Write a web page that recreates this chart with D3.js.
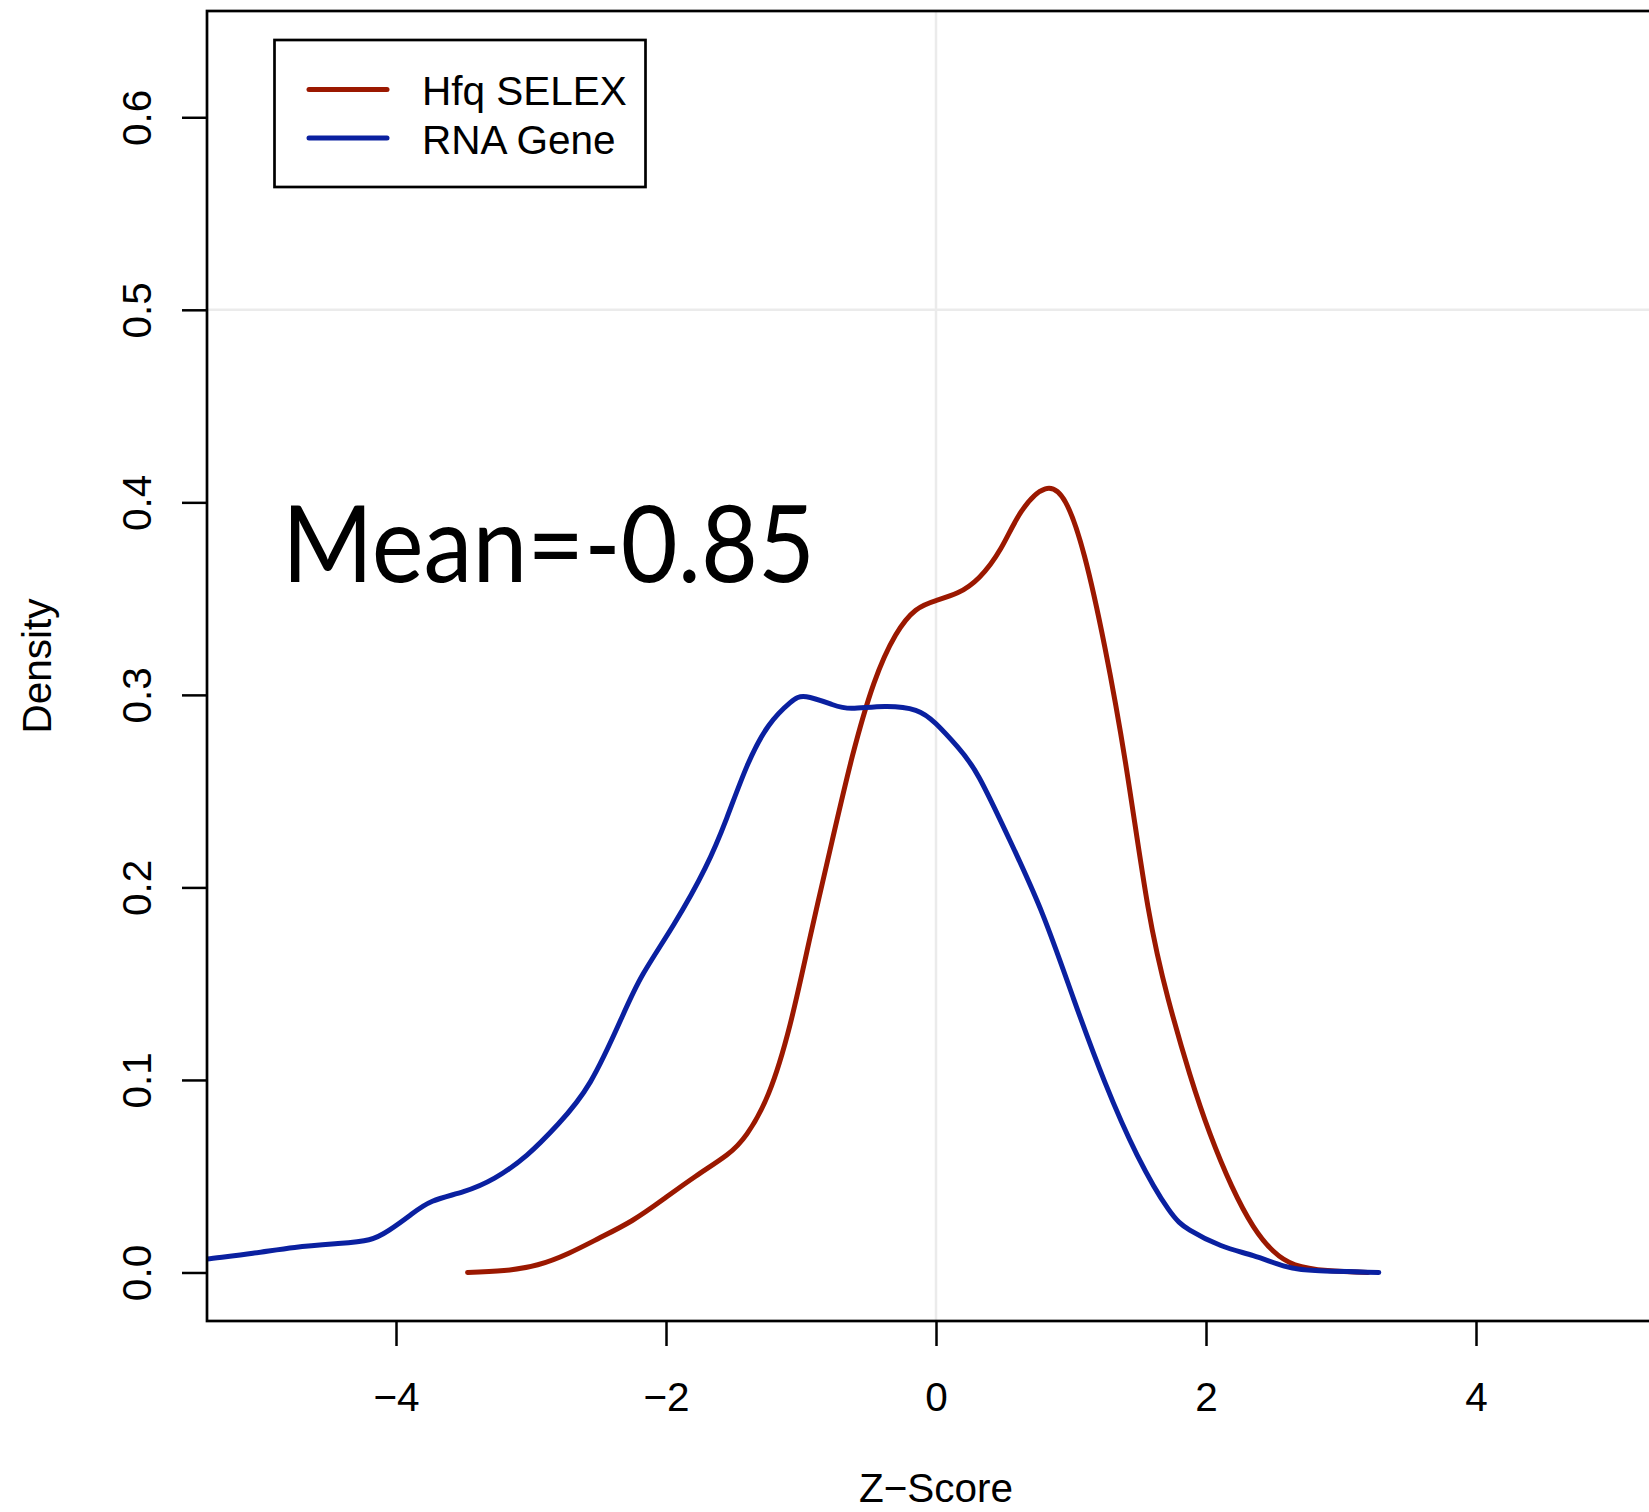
<!DOCTYPE html>
<html lang="en">
<head>
  <meta charset="UTF-8" />
  <title>Z-Score Density</title>
  <script src="https://d3js.org/d3.v7.min.js"></script>
  <style>
    html, body {
      margin: 0;
      padding: 0;
      background: #fff;
    }
    svg {
      display: block;
      font-family: "Liberation Sans", Arial, sans-serif;
    }
  </style>
</head>
<body>
  <svg id="chart"></svg>

  <script>
    // ---------------------------------------------------------
    // Data
    // ---------------------------------------------------------
    const seriesNames = ["Hfq SELEX", "RNA Gene"];
    const seriesColors = ["#9b1800", "#0a20a0"];

    // Hfq SELEX density: [z-score, density]
    const hfqSelex = [
      [-3.47, 0.000], [-3.20, 0.001], [-2.95, 0.004], [-2.72, 0.010],
      [-2.49, 0.018], [-2.25, 0.027], [-2.02, 0.038], [-1.78, 0.050],
      [-1.55, 0.061], [-1.40, 0.072], [-1.24, 0.093], [-1.08, 0.129],
      [-0.93, 0.175], [-0.77, 0.224], [-0.62, 0.268], [-0.46, 0.306],
      [-0.30, 0.331], [-0.15, 0.344], [0.00, 0.349], [0.16, 0.353],
      [0.32, 0.361], [0.48, 0.376], [0.63, 0.395], [0.81, 0.407],
      [0.96, 0.400], [1.10, 0.372], [1.25, 0.325], [1.41, 0.262],
      [1.57, 0.190], [1.72, 0.142], [1.88, 0.103], [2.03, 0.072],
      [2.19, 0.045], [2.35, 0.024], [2.50, 0.011], [2.66, 0.004],
      [2.90, 0.001], [3.20, 0.000]
    ];

    // RNA Gene density: [z-score, density]
    const rnaGene = [
      [-5.60, 0.005], [-5.40, 0.007], [-5.06, 0.010], [-4.75, 0.013],
      [-4.43, 0.015], [-4.20, 0.017], [-4.05, 0.022], [-3.89, 0.030],
      [-3.73, 0.037], [-3.50, 0.042], [-3.27, 0.049], [-3.03, 0.061],
      [-2.80, 0.077], [-2.56, 0.099], [-2.33, 0.132], [-2.17, 0.155],
      [-1.94, 0.181], [-1.71, 0.210], [-1.55, 0.236], [-1.40, 0.263],
      [-1.24, 0.284], [-1.08, 0.296], [-0.96, 0.299], [-0.77, 0.295],
      [-0.62, 0.293], [-0.38, 0.294], [-0.15, 0.292], [0.00, 0.285],
      [0.16, 0.273], [0.32, 0.257], [0.55, 0.224], [0.79, 0.186],
      [1.02, 0.142], [1.25, 0.099], [1.49, 0.061], [1.72, 0.033],
      [1.88, 0.022], [2.11, 0.014], [2.35, 0.0087], [2.58, 0.0033],
      [2.81, 0.001], [3.28, 0.000]
    ];

    const xTicks = [-4, -2, 0, 2, 4];
    const yTicks = [0, 0.1, 0.2, 0.3, 0.4, 0.5, 0.6];
    const gridX = [0];
    const gridY = [0.5];
    const annotation = "Mean=-0.85";

    // ---------------------------------------------------------
    // Layout
    // ---------------------------------------------------------
    const W = 1649, H = 1512;
    const plot = { left: 207, right: 1665, top: 11, bottom: 1321 };
    const fontSize = 40.5;

    const svg = d3.select("#chart").attr("width", W).attr("height", H);

    // R style: xlim c(-5,5), ylim c(0,0.63), each padded by 4%
    const x = d3.scaleLinear().domain([-5.4, 5.4]).range([plot.left, plot.right]);
    const y = d3.scaleLinear().domain([-0.0252, 0.6552]).range([plot.bottom, plot.top]);

    svg.append("defs").append("clipPath").attr("id", "plotClip")
      .append("rect")
      .attr("x", plot.left).attr("y", plot.top)
      .attr("width", plot.right - plot.left).attr("height", plot.bottom - plot.top);

    // grid lines
    svg.selectAll(".gx").data(gridX).join("line")
      .attr("x1", d => x(d)).attr("x2", d => x(d))
      .attr("y1", plot.top).attr("y2", plot.bottom)
      .attr("stroke", "#ebebeb").attr("stroke-width", 2.5);
    svg.selectAll(".gy").data(gridY).join("line")
      .attr("x1", plot.left).attr("x2", plot.right)
      .attr("y1", d => y(d)).attr("y2", d => y(d))
      .attr("stroke", "#ebebeb").attr("stroke-width", 2.5);

    // density curves (smooth spline through the read-off points)
    const line = d3.line()
      .x(d => x(d[0]))
      .y(d => y(d[1]))
      .curve(d3.curveNatural);

    const curves = svg.append("g").attr("clip-path", "url(#plotClip)");
    [hfqSelex, rnaGene].forEach((data, i) => {
      curves.append("path")
        .attr("d", line(data))
        .attr("fill", "none")
        .attr("stroke", seriesColors[i])
        .attr("stroke-width", 5)
        .attr("stroke-linecap", "round")
        .attr("stroke-linejoin", "round");
    });

    // plot box
    svg.append("rect")
      .attr("x", plot.left).attr("y", plot.top)
      .attr("width", plot.right - plot.left).attr("height", plot.bottom - plot.top)
      .attr("fill", "none").attr("stroke", "#000").attr("stroke-width", 2.7);

    // x axis
    const xAxis = svg.append("g")
      .attr("transform", `translate(0,${plot.bottom})`)
      .call(d3.axisBottom(x).tickValues(xTicks).tickSize(25).tickPadding(36));
    xAxis.select(".domain").remove();
    xAxis.selectAll(".tick line").attr("stroke", "#000").attr("stroke-width", 2.5);
    xAxis.selectAll(".tick text")
      .attr("font-size", fontSize).attr("font-family", "Liberation Sans, Arial, sans-serif")
      .attr("fill", "#000");

    // y axis (labels rotated like R's default las=0)
    const yAxis = svg.append("g")
      .attr("transform", `translate(${plot.left},0)`)
      .call(d3.axisLeft(y).tickValues(yTicks).tickSize(25).tickFormat(d3.format(".1f")));
    yAxis.select(".domain").remove();
    yAxis.selectAll(".tick line").attr("stroke", "#000").attr("stroke-width", 2.5);
    yAxis.selectAll(".tick text")
      .attr("x", 0).attr("y", 0).attr("dy", null)
      .attr("transform", "translate(-56,0) rotate(-90)")
      .attr("text-anchor", "middle")
      .attr("font-size", fontSize).attr("font-family", "Liberation Sans, Arial, sans-serif")
      .attr("fill", "#000");

    // axis titles
    svg.append("text")
      .attr("x", (plot.left + plot.right) / 2).attr("y", 1502)
      .attr("text-anchor", "middle").attr("font-size", fontSize)
      .text("Z\u2212Score");
    svg.append("text")
      .attr("transform", `translate(51,${(plot.top + plot.bottom) / 2}) rotate(-90)`)
      .attr("text-anchor", "middle").attr("font-size", fontSize)
      .text("Density");

    // legend
    const legend = svg.append("g");
    legend.append("rect")
      .attr("x", 274.5).attr("y", 40).attr("width", 371).attr("height", 147)
      .attr("fill", "#fff").attr("stroke", "#000").attr("stroke-width", 2.7);
    seriesNames.forEach((name, i) => {
      const ly = 89.5 + i * 48.5;
      legend.append("line")
        .attr("x1", 309).attr("x2", 387).attr("y1", ly).attr("y2", ly)
        .attr("stroke", seriesColors[i]).attr("stroke-width", 5)
        .attr("stroke-linecap", "round");
      legend.append("text")
        .attr("x", 422).attr("y", ly + 15.5)
        .attr("font-size", fontSize)
        .text(name);
    });

    // annotation
    svg.append("text")
      .attr("x", 282).attr("y", 582)
      .attr("font-family", "Lato, 'Open Sans', sans-serif")
      .attr("font-size", 107)
      .attr("textLength", 533).attr("lengthAdjust", "spacingAndGlyphs")
      .attr("fill", "#000")
      .text(annotation);
  </script>
</body>
</html>
